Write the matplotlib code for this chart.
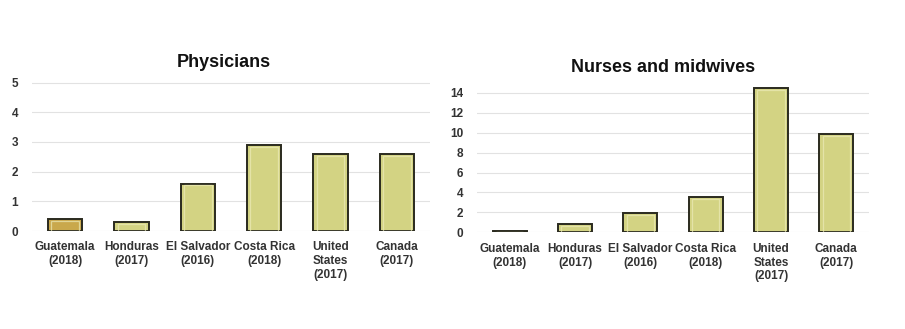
import numpy as np
import matplotlib
matplotlib.use("Agg")
import matplotlib.pyplot as plt

plt.rcParams['font.family'] = ['Liberation Sans', 'DejaVu Sans']

countries = ["Guatemala\n(2018)", "Honduras\n(2017)", "El Salvador\n(2016)",
             "Costa Rica\n(2018)", "United\nStates\n(2017)", "Canada\n(2017)"]
physicians = [0.4, 0.3, 1.6, 2.9, 2.6, 2.6]
nurses = [0.1, 0.8, 1.9, 3.5, 14.5, 9.9]

bar_color = "#d3d383"
highlight_color = "#c9a84c"
edge_color = "#2a2a1e"


def draw_panel(ax, values, title, ymax, yticks, colors, title_x):
    x = np.arange(len(values))
    ax.bar(x, values, width=0.52, color=colors, edgecolor=edge_color, linewidth=1.4, zorder=3)
    # light inner bevel
    ax.bar(x, np.maximum(np.array(values) - ymax * 0.012, 0), width=0.42, color="none",
           edgecolor="#ecebb8", linewidth=0.9, zorder=4, alpha=0.7)
    ax.set_xlim(-0.5, len(values) - 0.5)
    ax.set_ylim(0, ymax)
    ax.set_yticks(yticks)
    ax.set_xticks(x)
    ax.set_xticklabels(countries, fontsize=8.5, fontweight="bold", color="#333333", linespacing=1.2)
    ax.tick_params(axis="y", labelsize=8.5, colors="#333333", length=0, pad=10)
    ax.tick_params(axis="x", length=0, pad=7.5)
    for lbl in ax.get_yticklabels():
        lbl.set_fontweight("bold")
    ax.grid(axis="y", color="#e2e2e2", linewidth=0.8, zorder=0)
    for s in ax.spines.values():
        s.set_visible(False)
    ax.set_title(title, fontsize=13, fontweight="bold", color="#111111", pad=11, x=title_x)


fig = plt.figure(figsize=(9.05, 3.29), dpi=100)
ax1 = fig.add_axes([32 / 905, 1 - 231 / 329, (430 - 32) / 905, (231 - 82) / 329])
ax2 = fig.add_axes([477 / 905, 1 - 232.3 / 329, (869 - 477) / 905, (232.3 - 87) / 329])

phys_colors = [highlight_color] + [bar_color] * 5
draw_panel(ax1, physicians, "Physicians", 5.02, [0, 1, 2, 3, 4, 5], phys_colors, 0.482)
draw_panel(ax2, nurses, "Nurses and midwives", 14.6, [0, 2, 4, 6, 8, 10, 12, 14], [bar_color] * 6, 0.474)

fig.savefig("out.png", dpi=100, facecolor="white")
